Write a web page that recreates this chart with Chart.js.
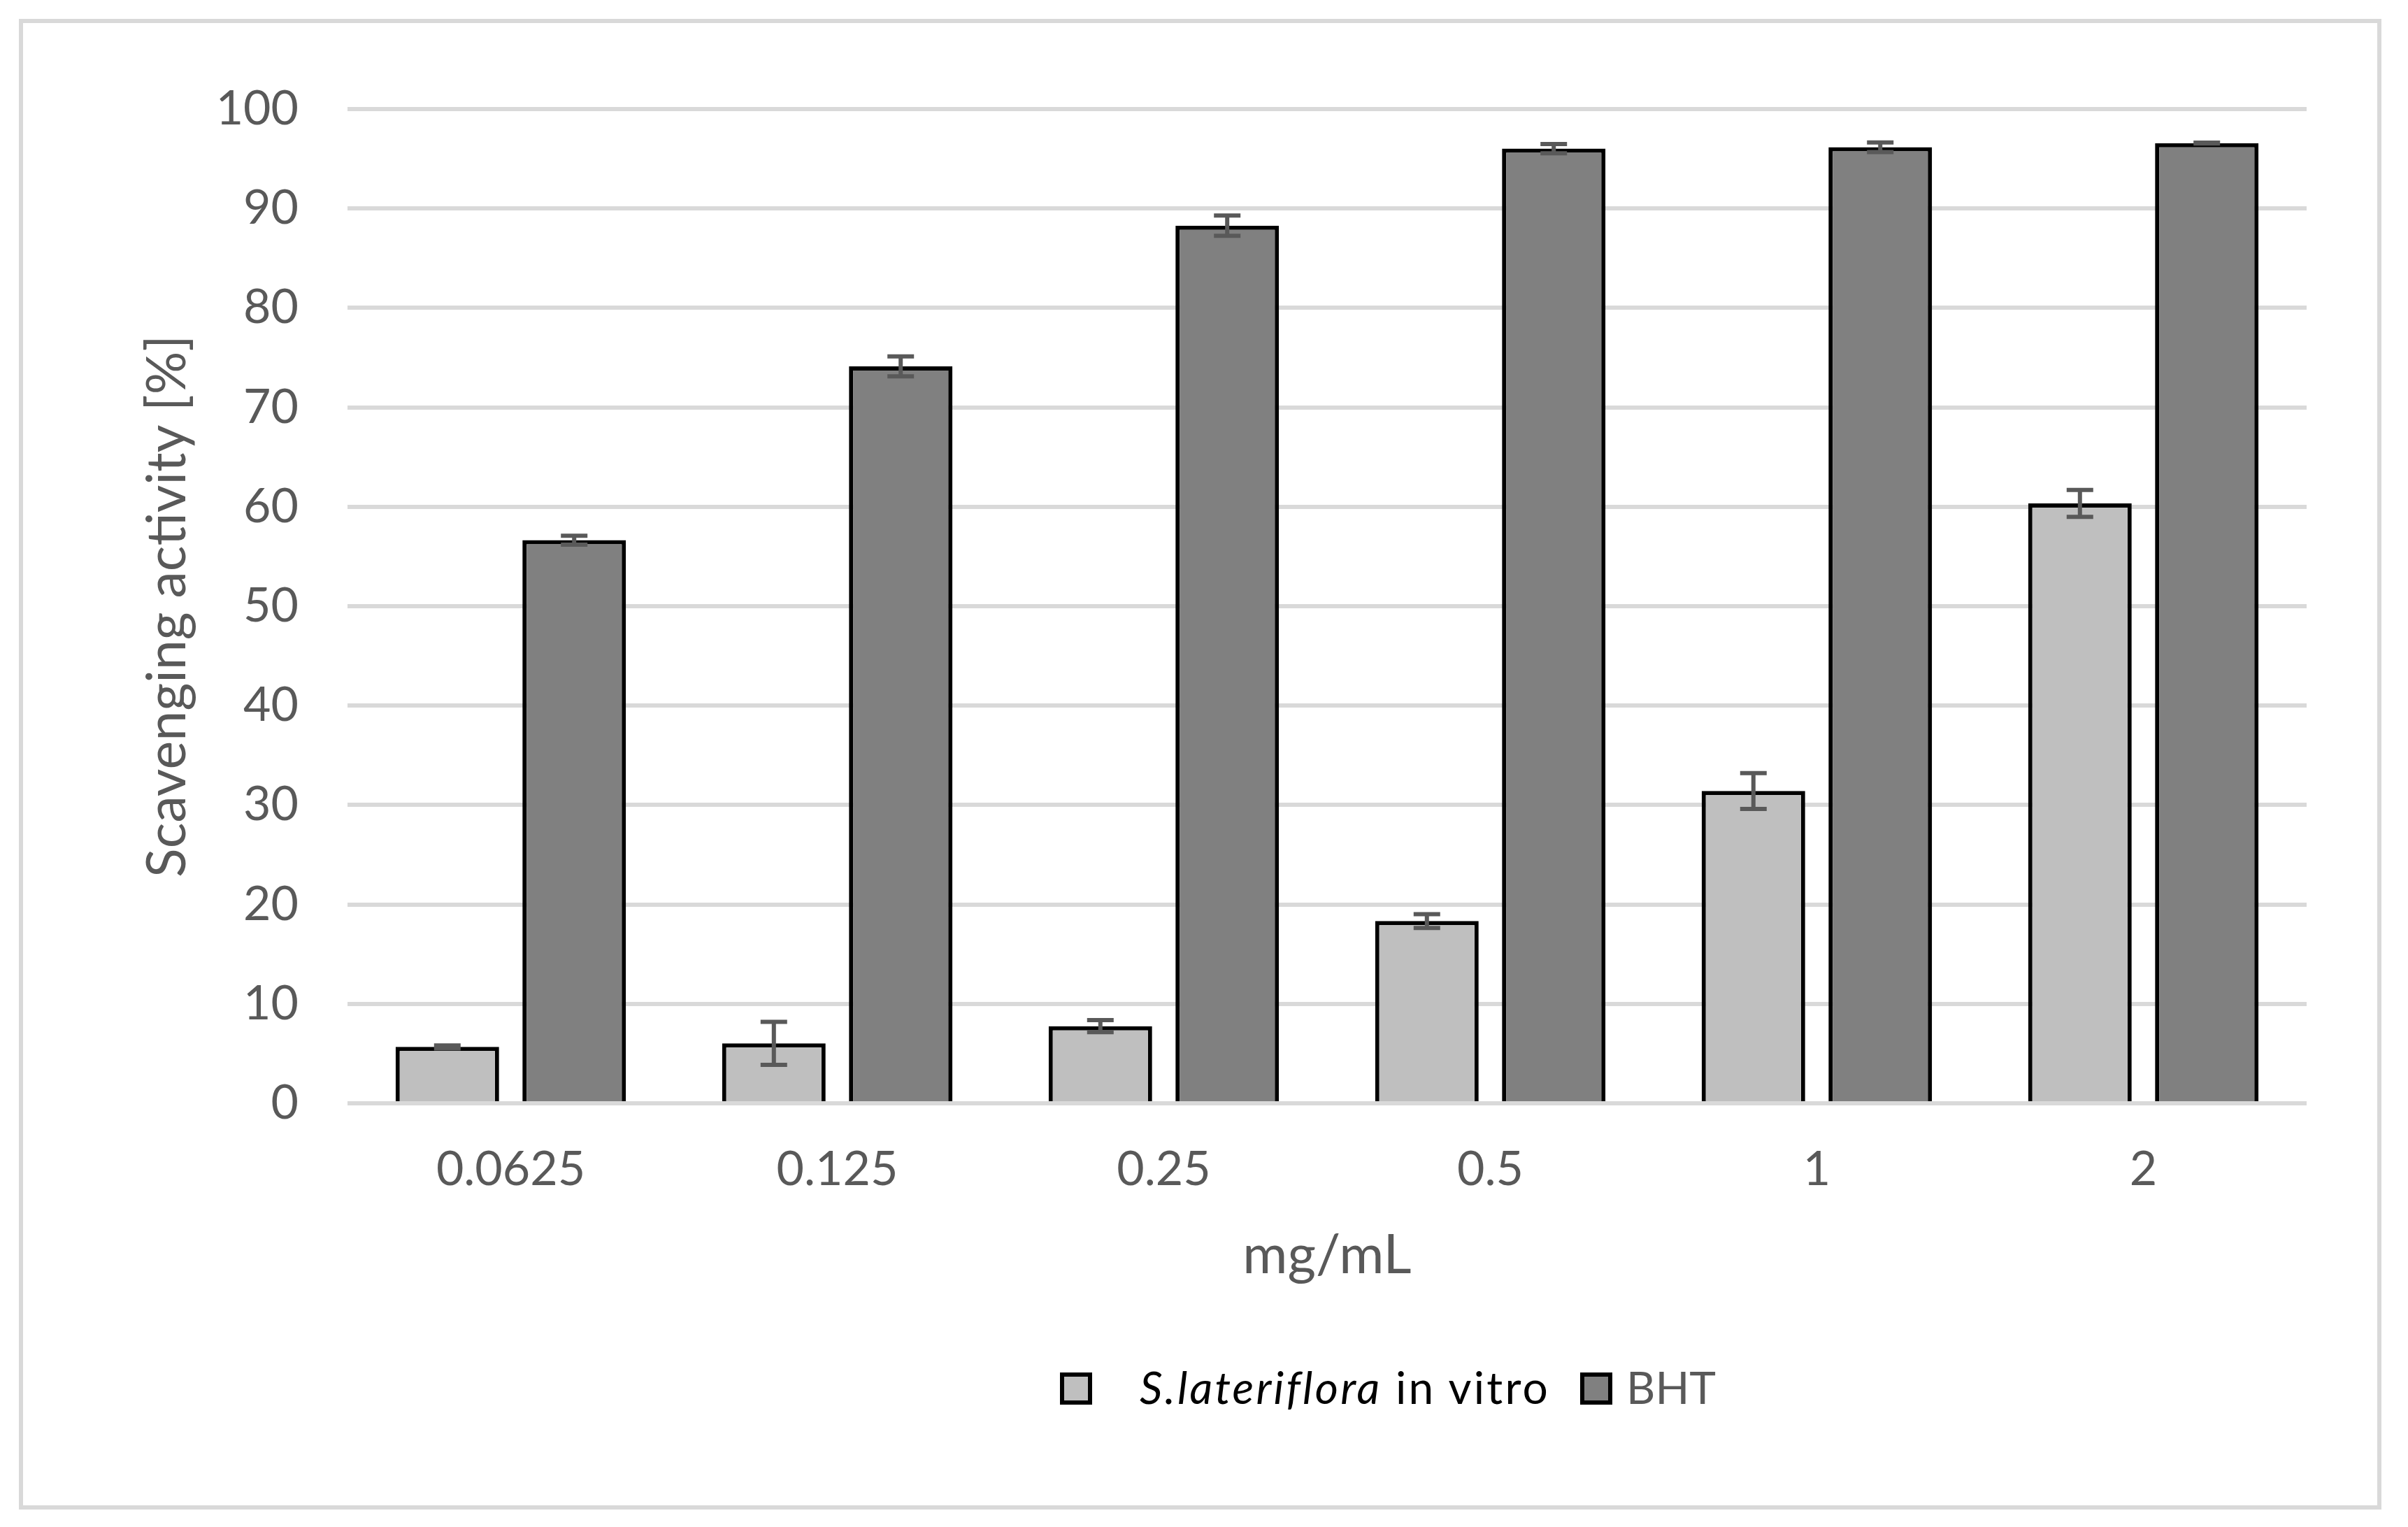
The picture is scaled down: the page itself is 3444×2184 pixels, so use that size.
<!DOCTYPE html>
<html>
<head>
<meta charset="utf-8">
<script src="https://cdn.jsdelivr.net/npm/chart.js@4/dist/chart.umd.min.js"></script>
<style>
  html, body { margin: 0; padding: 0; background: #ffffff; }
  body { width: 3444px; height: 2184px; position: relative; overflow: hidden; font-family: Lato, sans-serif; }
  #frame { position: absolute; left: 27px; top: 27px; width: 3379px; height: 2132px; box-sizing: border-box; border: 6px solid #d9d9d9; }
  #c { position: absolute; left: 0; top: 0; }
  .lbox { position: absolute; width: 46px; height: 46px; box-sizing: border-box; border: 6px solid #000; }
  .ltext { position: absolute; font-size: 64px; line-height: 64px; white-space: nowrap; font-family: Lato, sans-serif; }
</style>
</head>
<body>
<div id="frame"></div>
<canvas id="c" width="3444" height="2184"></canvas>
<div id="legend"></div>
<script>
// ---- data ----
const categories = ['0.0625', '0.125', '0.25', '0.5', '1', '2'];
const seriesNames = ['S.lateriflora in vitro', 'BHT'];
const slValues = [5.67, 6.03, 7.76, 18.33, 31.41, 60.34];
const slErrors = [0.15, 2.17, 0.61, 0.70, 1.80, 1.35];
const bhtValues = [56.64, 74.12, 88.28, 96.02, 96.16, 96.58];
const bhtErrors = [0.45, 1.00, 1.02, 0.47, 0.49, 0.05];
const yTicks = [0, 10, 20, 30, 40, 50, 60, 70, 80, 90, 100];
const xTitle = 'mg/mL';
const yTitle = 'Scavenging activity [%]';

const errorSets = [slErrors, bhtErrors];
const seriesFill = ['#bfbfbf', '#808080'];
const legendTextColor = ['#000000', '#595959'];

const errorBarPlugin = {
  id: 'errorBars',
  afterDatasetsDraw(chart) {
    const ctx = chart.ctx;
    const ys = chart.scales.y;
    chart.data.datasets.forEach((ds, di) => {
      const meta = chart.getDatasetMeta(di);
      const errs = errorSets[di];
      meta.data.forEach((bar, i) => {
        const v = ds.data[i], e = errs[i];
        const yt = ys.getPixelForValue(v + e);
        const yb = ys.getPixelForValue(v - e);
        const half = 19;
        ctx.save();
        ctx.strokeStyle = '#595959';
        ctx.lineWidth = 6;
        ctx.lineCap = 'butt';
        ctx.beginPath();
        ctx.moveTo(bar.x, yt); ctx.lineTo(bar.x, yb);
        ctx.moveTo(bar.x - half, yt); ctx.lineTo(bar.x + half, yt);
        ctx.moveTo(bar.x - half, yb); ctx.lineTo(bar.x + half, yb);
        ctx.stroke();
        ctx.restore();
      });
    });
  }
};

Chart.defaults.font.family = 'Lato, sans-serif';

new Chart(document.getElementById('c'), {
  type: 'bar',
  data: {
    labels: categories,
    datasets: [
      { label: seriesNames[0], data: slValues, backgroundColor: seriesFill[0], borderColor: '#000000', borderWidth: 6,
        categoryPercentage: 0.777, barPercentage: 0.816 },
      { label: seriesNames[1], data: bhtValues, backgroundColor: seriesFill[1], borderColor: '#000000', borderWidth: 6,
        categoryPercentage: 0.777, barPercentage: 0.816 }
    ]
  },
  options: {
    responsive: false,
    animation: false,
    devicePixelRatio: 1,
    layout: { padding: { left: 0, right: 145, top: 156, bottom: 206 } },
    plugins: {
      legend: { display: false },
      tooltip: { enabled: false }
    },
    scales: {
      x: {
        grid: { display: false, drawTicks: false },
        border: { display: false },
        ticks: { color: '#595959', font: { size: 68 }, padding: 54 },
        title: { display: true, text: xTitle, color: '#595959', font: { size: 78 }, padding: { top: 0, bottom: 135 } },
        afterFit: (s) => { s.height = 400; }
      },
      y: {
        min: 0, max: 100,
        afterBuildTicks: (s) => { s.ticks = yTicks.map(v => ({ value: v })); },
        grid: { color: '#d9d9d9', lineWidth: 6, drawTicks: false },
        border: { display: false },
        ticks: { color: '#595959', font: { size: 68 }, padding: 70 },
        title: { display: true, text: yTitle, color: '#595959', font: { size: 77 }, padding: { top: 194, bottom: 0 } },
        afterFit: (s) => { s.width = 497; }
      }
    }
  },
  plugins: [errorBarPlugin]
});

// ---- legend (HTML, mixed italic) ----
const legend = document.getElementById('legend');
const legendPos = [{ box: 1516, text: 1630, spacing: 3.2 }, { box: 2260, text: 2326, spacing: 0 }];
seriesNames.forEach((name, i) => {
  const b = document.createElement('div');
  b.className = 'lbox';
  b.style.left = legendPos[i].box + 'px';
  b.style.top = '1963px';
  b.style.background = seriesFill[i];
  legend.appendChild(b);
  const t = document.createElement('div');
  t.className = 'ltext';
  t.style.left = legendPos[i].text + 'px';
  t.style.top = '1952px';
  t.style.color = legendTextColor[i];
  t.style.letterSpacing = legendPos[i].spacing + 'px';
  const sp = name.indexOf(' ');
  if (i === 0 && sp > 0) {
    const it = document.createElement('i');
    it.textContent = name.slice(0, sp);
    t.appendChild(it);
    t.appendChild(document.createTextNode(name.slice(sp)));
  } else {
    t.textContent = name;
  }
  legend.appendChild(t);
});
</script>
</body>
</html>
